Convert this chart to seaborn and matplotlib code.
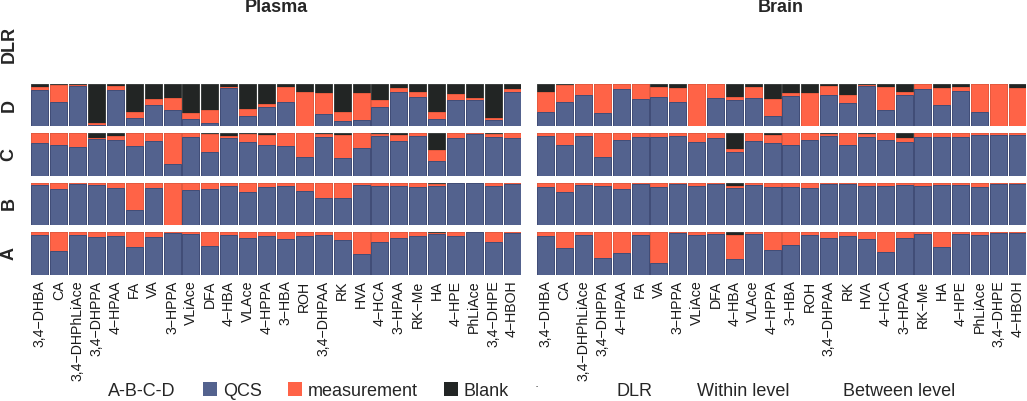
import matplotlib
matplotlib.use("Agg")
import matplotlib.pyplot as plt
from matplotlib.patches import Patch
import pandas as pd
import seaborn as sns

# metabolites on the x axis (same order in both tissues)
metabolites = ["3,4−DHBA", "CA", "3,4−DHPhLiAce", "3,4−DHPPA", "4−HPAA", "FA", "VA",
               "3−HPPA", "VLiAce", "DFA", "4−HBA", "VLAce", "4−HPPA", "3−HBA", "ROH",
               "3,4−DHPAA", "RK", "HVA", "4−HCA", "3−HPAA", "RK−Me", "HA", "4−HPE",
               "PhLiAce", "3,4−DHPE", "4−HBOH"]
tissues = ["Plasma", "Brain"]
levels = ["DLR", "D", "C", "B", "A"]

plasma_D_qcs = [0.85, 0.57, 0.95, 0.03, 0.85, 0.19, 0.50, 0.39, 0.17, 0.06, 0.90, 0.25, 0.46,
                0.57, 0.00, 0.28, 0.11, 0.14, 0.46, 0.80, 0.69, 0.16, 0.63, 0.63, 0.15, 0.81]
plasma_D_meas = [0.08, 0.41, 0.03, 0.05, 0.10, 0.15, 0.15, 0.27, 0.15, 0.33, 0.04, 0.15, 0.07,
                 0.37, 0.82, 0.51, 0.23, 0.64, 0.15, 0.10, 0.11, 0.18, 0.13, 0.03, 0.03, 0.06]
plasma_D_blank = [0.07, 0.02, 0.02, 0.92, 0.05, 0.66, 0.35, 0.34, 0.68, 0.61, 0.06, 0.60, 0.47,
                  0.06, 0.18, 0.21, 0.66, 0.22, 0.39, 0.10, 0.20, 0.66, 0.24, 0.34, 0.82, 0.13]

plasma_C_qcs = [0.77, 0.72, 0.67, 0.86, 0.84, 0.70, 0.81, 0.28, 0.91, 0.55, 0.88, 0.79, 0.73,
                0.70, 0.45, 0.90, 0.41, 0.65, 0.93, 0.81, 0.93, 0.36, 0.88, 0.98, 0.90, 0.88]
plasma_C_meas = [0.22, 0.28, 0.33, 0.03, 0.10, 0.29, 0.18, 0.71, 0.08, 0.42, 0.06, 0.19, 0.23,
                 0.29, 0.54, 0.08, 0.55, 0.34, 0.04, 0.15, 0.06, 0.25, 0.11, 0.01, 0.07, 0.11]
plasma_C_blank = [0.01, 0.00, 0.00, 0.11, 0.06, 0.01, 0.01, 0.01, 0.01, 0.03, 0.06, 0.02, 0.04,
                  0.01, 0.01, 0.02, 0.04, 0.01, 0.03, 0.04, 0.01, 0.39, 0.01, 0.01, 0.03, 0.01]

plasma_B_qcs = [0.96, 0.85, 0.98, 0.96, 0.87, 0.35, 0.87, 0.00, 0.84, 0.85, 0.92, 0.79, 0.91,
                0.94, 0.81, 0.65, 0.64, 0.96, 0.92, 0.94, 0.91, 0.94, 0.99, 0.99, 0.94, 0.97]
plasma_B_meas = [0.04, 0.15, 0.02, 0.04, 0.13, 0.65, 0.13, 1.00, 0.16, 0.15, 0.08, 0.21, 0.09,
                 0.06, 0.19, 0.35, 0.36, 0.04, 0.08, 0.06, 0.09, 0.04, 0.01, 0.01, 0.06, 0.03]
plasma_B_blank = [0.00, 0.00, 0.00, 0.00, 0.00, 0.00, 0.00, 0.00, 0.00, 0.00, 0.00, 0.00, 0.00,
                  0.00, 0.00, 0.00, 0.00, 0.00, 0.00, 0.00, 0.00, 0.02, 0.00, 0.00, 0.00, 0.00]

plasma_A_qcs = [0.94, 0.56, 0.94, 0.88, 0.90, 0.65, 0.88, 0.98, 0.95, 0.68, 0.93, 0.85, 0.90,
                0.83, 0.90, 0.92, 0.82, 0.49, 0.77, 0.86, 0.90, 0.95, 0.90, 0.99, 0.77, 0.98]
plasma_A_meas = [0.06, 0.44, 0.06, 0.12, 0.10, 0.35, 0.12, 0.02, 0.05, 0.32, 0.07, 0.15, 0.10,
                 0.17, 0.10, 0.08, 0.18, 0.51, 0.23, 0.14, 0.10, 0.03, 0.10, 0.01, 0.23, 0.02]
plasma_A_blank = [0.00, 0.00, 0.00, 0.00, 0.00, 0.00, 0.00, 0.00, 0.00, 0.00, 0.00, 0.00, 0.00,
                  0.00, 0.00, 0.00, 0.00, 0.00, 0.00, 0.00, 0.00, 0.02, 0.00, 0.00, 0.00, 0.00]

brain_D_qcs = [0.33, 0.57, 0.74, 0.32, 0.89, 0.64, 0.70, 0.57, 0.00, 0.67, 0.63, 0.67, 0.24,
               0.72, 0.00, 0.75, 0.54, 0.95, 0.38, 0.75, 0.89, 0.50, 0.83, 0.34, 0.00, 0.00]
brain_D_meas = [0.48, 0.41, 0.25, 0.67, 0.10, 0.35, 0.24, 0.33, 1.00, 0.32, 0.07, 0.27, 0.40,
                0.06, 0.79, 0.20, 0.20, 0.03, 0.54, 0.07, 0.11, 0.41, 0.11, 0.66, 1.00, 0.90]
brain_D_blank = [0.19, 0.02, 0.01, 0.01, 0.01, 0.01, 0.06, 0.10, 0.00, 0.01, 0.30, 0.06, 0.36,
                 0.22, 0.21, 0.05, 0.26, 0.02, 0.08, 0.18, 0.00, 0.09, 0.06, 0.00, 0.00, 0.10]

brain_C_qcs = [0.94, 0.71, 0.93, 0.44, 0.83, 0.91, 0.91, 0.94, 0.80, 0.88, 0.56, 0.81, 0.77,
               0.73, 0.83, 0.93, 0.73, 0.91, 0.83, 0.80, 0.90, 0.91, 0.91, 0.96, 0.96, 0.96]
brain_C_meas = [0.05, 0.28, 0.06, 0.55, 0.16, 0.08, 0.08, 0.05, 0.19, 0.11, 0.06, 0.18, 0.19,
                0.26, 0.16, 0.04, 0.26, 0.06, 0.16, 0.09, 0.09, 0.08, 0.08, 0.03, 0.03, 0.03]
brain_C_blank = [0.01, 0.01, 0.01, 0.01, 0.01, 0.01, 0.01, 0.01, 0.01, 0.01, 0.38, 0.01, 0.04,
                 0.01, 0.01, 0.03, 0.01, 0.03, 0.01, 0.11, 0.01, 0.01, 0.01, 0.01, 0.01, 0.01]

brain_B_qcs = [0.90, 0.78, 0.95, 0.94, 0.85, 0.98, 0.91, 0.98, 0.92, 0.98, 0.87, 0.96, 0.90,
               0.90, 0.89, 0.98, 0.98, 0.94, 0.92, 0.95, 0.92, 0.96, 0.95, 0.90, 0.98, 0.98]
brain_B_meas = [0.10, 0.22, 0.05, 0.06, 0.15, 0.02, 0.09, 0.02, 0.08, 0.02, 0.07, 0.04, 0.10,
                0.10, 0.11, 0.02, 0.02, 0.06, 0.08, 0.05, 0.08, 0.04, 0.05, 0.10, 0.02, 0.02]
brain_B_blank = [0.00, 0.00, 0.00, 0.00, 0.00, 0.00, 0.00, 0.00, 0.00, 0.00, 0.06, 0.00, 0.00,
                 0.00, 0.00, 0.00, 0.00, 0.00, 0.00, 0.00, 0.00, 0.00, 0.00, 0.00, 0.00, 0.00]

brain_A_qcs = [0.91, 0.63, 0.94, 0.39, 0.52, 0.94, 0.27, 0.97, 0.93, 0.96, 0.37, 0.96, 0.57,
               0.70, 0.94, 0.86, 0.90, 0.83, 0.54, 0.85, 0.95, 0.65, 0.96, 0.94, 0.98, 0.97]
brain_A_meas = [0.09, 0.37, 0.06, 0.61, 0.48, 0.06, 0.73, 0.03, 0.07, 0.04, 0.56, 0.04, 0.43,
                0.30, 0.06, 0.14, 0.10, 0.17, 0.46, 0.15, 0.05, 0.35, 0.04, 0.06, 0.02, 0.03]
brain_A_blank = [0.00, 0.00, 0.00, 0.00, 0.00, 0.00, 0.00, 0.00, 0.00, 0.00, 0.07, 0.00, 0.00,
                 0.00, 0.00, 0.00, 0.00, 0.00, 0.00, 0.00, 0.00, 0.00, 0.00, 0.00, 0.00, 0.00]

panels = {
    ("Plasma", "D"): (plasma_D_qcs, plasma_D_meas, plasma_D_blank),
    ("Plasma", "C"): (plasma_C_qcs, plasma_C_meas, plasma_C_blank),
    ("Plasma", "B"): (plasma_B_qcs, plasma_B_meas, plasma_B_blank),
    ("Plasma", "A"): (plasma_A_qcs, plasma_A_meas, plasma_A_blank),
    ("Brain", "D"): (brain_D_qcs, brain_D_meas, brain_D_blank),
    ("Brain", "C"): (brain_C_qcs, brain_C_meas, brain_C_blank),
    ("Brain", "B"): (brain_B_qcs, brain_B_meas, brain_B_blank),
    ("Brain", "A"): (brain_A_qcs, brain_A_meas, brain_A_blank),
}

col_qcs = "#53628e"
col_meas = "#ff6347"
col_blank = "#222524"

sns.set_theme(style="white")
plt.rcParams["font.family"] = ["Liberation Sans", "DejaVu Sans"]

W, H = 1027, 401
fig = plt.figure(figsize=(W / 100, H / 100), dpi=100)

# panel boxes in pixels: (left, width) per tissue, (top, bottom) per level
col_px = {"Plasma": (31, 490), "Brain": (537, 489)}
row_px = {"DLR": (18, 77), "D": (84, 126), "C": (133, 176), "B": (183, 225), "A": (232, 275)}

for tissue in tissues:
    left, width = col_px[tissue]
    for level in levels:
        top, bottom = row_px[level]
        ax = fig.add_axes([left / W, 1 - bottom / H, width / W, (bottom - top) / H])
        if level == "DLR":
            # this level has no bars
            ax.set_axis_off()
            continue
        qcs, meas, blank = panels[(tissue, level)]
        df = pd.DataFrame({"metabolite": metabolites, "QCS": qcs,
                           "measurement": meas, "Blank": blank})
        tot = df["QCS"] + df["measurement"] + df["Blank"]
        df["top_blank"] = 1.0
        df["top_meas"] = (df["QCS"] + df["measurement"]) / tot
        df["top_qcs"] = df["QCS"] / tot
        # overlay the cumulative layers so they read as stacked bars
        for ycol, c, ec in [("top_blank", col_blank, "#3a3d3c"),
                            ("top_meas", col_meas, "#e85a3e"),
                            ("top_qcs", col_qcs, "#3f4d78")]:
            sns.barplot(data=df, x="metabolite", y=ycol, order=metabolites, color=c,
                        saturation=1, width=0.9, errorbar=None, linewidth=0.7,
                        edgecolor=ec, ax=ax)
        ax.set_xlim(-0.47, len(metabolites) - 0.53)
        ax.set_ylim(0, 1)
        ax.set_xlabel("")
        ax.set_ylabel("")
        ax.set_yticks([])
        for s in ax.spines.values():
            s.set_visible(False)
        ax.tick_params(axis="x", length=0, pad=4)
        if level == "A":
            ax.set_xticks(range(len(metabolites)))
            ax.set_xticklabels(metabolites, rotation=90, fontsize=10.2, color="#1a1a1a")
        else:
            ax.set_xticklabels([])

# strip labels
fig.text(276 / W, 1 - 8 / H, "Plasma", ha="center", va="center", fontsize=13, fontweight="bold")
fig.text(781 / W, 1 - 8 / H, "Brain", ha="center", va="center", fontsize=13, fontweight="bold")
for level in levels:
    top, bottom = row_px[level]
    yc = (top + bottom) / 2 if level != "DLR" else 44
    fig.text(9 / W, 1 - yc / H, level, rotation=90, ha="center", va="center",
             fontsize=13, fontweight="bold")

# legend row
ly = 1 - 391 / H
fig.text(108 / W, ly, "A-B-C-D", ha="left", va="center", fontsize=13)
handles = [Patch(facecolor=col_qcs, edgecolor="none"),
           Patch(facecolor=col_meas, edgecolor="none"),
           Patch(facecolor=col_blank, edgecolor="none")]
fig.legend(handles, ["QCS", "measurement", "Blank"], loc="center left",
           bbox_to_anchor=(203 / W, ly), ncol=3, frameon=False, fontsize=13,
           handlelength=0.8, handleheight=0.8, handletextpad=0.3, columnspacing=1.45,
           borderaxespad=0, borderpad=0)
fig.text(537 / W, 1 - 387 / H, "·", ha="center", va="center", fontsize=9)
fig.text(617 / W, ly, "DLR", ha="left", va="center", fontsize=13)
fig.text(697 / W, ly, "Within level", ha="left", va="center", fontsize=13)
fig.text(843 / W, ly, "Between level", ha="left", va="center", fontsize=13)

fig.savefig("out.png", dpi=100, facecolor="white")
